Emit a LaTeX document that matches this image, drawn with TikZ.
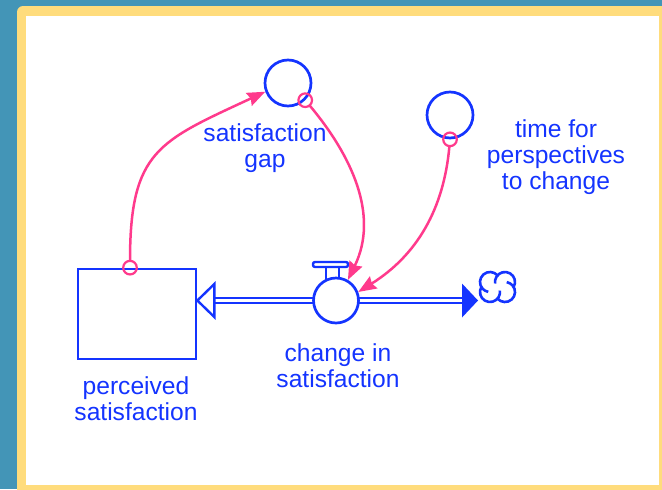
\documentclass[tikz,border=0pt]{standalone}
\usepackage{fontspec}
\setmainfont{Liberation Sans}
\usepackage{tikz}
\usetikzlibrary{positioning,arrows.meta}
\definecolor{SimBlue}{HTML}{1434FF}
\definecolor{SimPink}{HTML}{FF3A8C}
\definecolor{SimTeal}{HTML}{4395B7}
\definecolor{SimFrame}{HTML}{FFDC7C}

\begin{document}
\begin{tikzpicture}[x=0.5pt,y=0.5pt,
    stockbox/.style={draw=SimBlue,line width=1.35pt,minimum width=59pt,
      minimum height=45pt,inner sep=0pt},
    auxnode/.style={circle,draw=SimBlue,line width=1.35pt,minimum size=23pt,
      inner sep=0pt},
    valvenode/.style={circle,draw=SimBlue,fill=white,line width=1.35pt,
      minimum size=22.5pt,inner sep=0pt},
    lbl/.style={anchor=north,align=center,inner sep=0pt,text=SimBlue,
      font=\fontsize{12.3}{13}\selectfont},
    pipe/.style={draw=SimBlue,line width=1.1pt,double=white,double distance=1.4pt},
    link/.style={draw=SimPink,line width=1.25pt,shorten <=3.4pt,
      -{Stealth[length=9pt,width=7pt,inset=1pt]}},
    tap/.style={draw=SimPink,line width=1.1pt}]
    \useasboundingbox (0,0) rectangle (662,489);
    \clip (0,0) rectangle (662,489);
    \fill[SimTeal] (0,0) rectangle (662,489);
    \fill[SimFrame,rounded corners=3pt] (17,-10) rectangle (680,483);
    \fill[white] (26,4) rectangle (659,473);
    \node[stockbox] (perceived) at (137,175) {};
    \node[lbl] (perceivedlbl) at (136,113) {perceived\\satisfaction};
    \node[auxnode] (gapaux) at (288,406) {};
    \node[lbl] (gaplbl) at (265,366) {satisfaction\\gap};
    \node[auxnode] (timeaux) at (450,374) {};
    \node[lbl] (timelbl) at (556,370) {time for\\perspectives\\to change};
    \coordinate (sink) at (478,188.5);
    \draw[pipe,shorten >=8.5pt] (336,188.5) -- (perceived.east |- sink);
    \draw[SimBlue,line width=1.2pt,fill=white] (perceived.east |- sink)
      -- ++(8.5pt,8.25pt) -- ++(0,-16.5pt) -- cycle;
    \draw[pipe,shorten >=8pt] (336,188.5) -- (sink);
    \fill[SimBlue] (sink) -- ++(-8pt,8.5pt) -- ++(0,-17pt) -- cycle;
    \node[valvenode] (valve) at (336,188.5) {};
    \node[lbl] (changelbl) at (338,146) {change in\\satisfaction};
    \draw[SimBlue,line width=1.2pt,rounded corners=1pt] (313,222) rectangle (348,227);
    \draw[SimBlue,line width=1.2pt] (326,209) -- (326,222) (339,210) -- (339,222);
    \begin{scope}[shift={(sink)},x=1pt,y=1pt]
      \foreach \cx/\cy/\s/\e in {13.5/9.25/-30/188.6,6/9.25/41.4/260,
          6/4.25/150/368.6,13.5/4.25/221.4/440}{
        \draw[SimBlue,line width=1.3pt] (\cx,\cy) ++(\s:5)
          arc[start angle=\s,end angle=\e,radius=5];
      }
    \end{scope}
    \draw[tap] ([xshift=-3.5pt]perceived.north) circle (3.4pt);
    \draw[link] ([xshift=-3.5pt]perceived.north) to[out=90,in=205,looseness=1.35]
      (gapaux.201);
    \draw[tap] (gapaux.-45) circle (3.4pt);
    \draw[link] (gapaux.-45) to[out=-50,in=64] (valve.60);
    \draw[tap] (timeaux.south) circle (3.4pt);
    \draw[link] (timeaux.south) to[out=-95,in=32] (valve.21);
\end{tikzpicture}
\end{document}
